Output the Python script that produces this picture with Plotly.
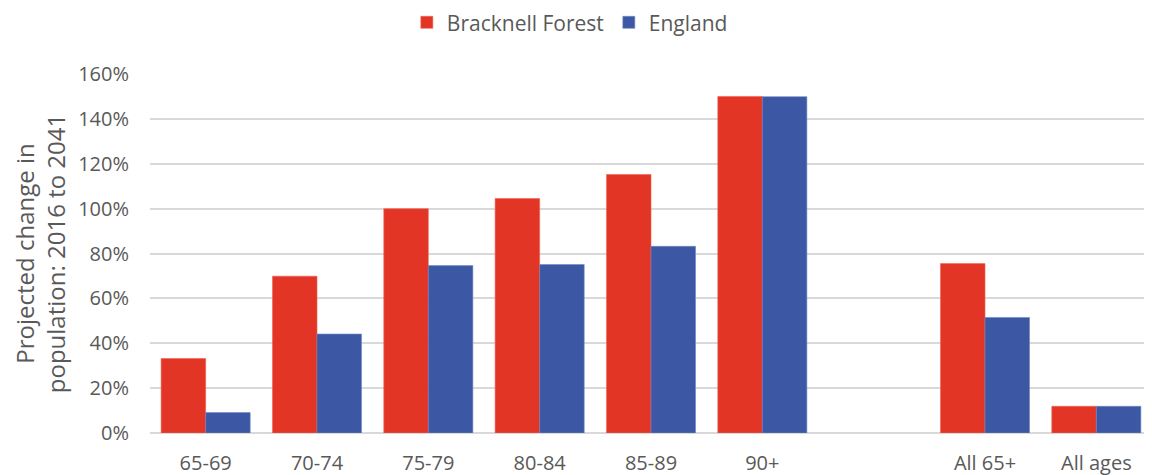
import plotly.graph_objects as go

categories = ["65-69", "70-74", "75-79", "80-84", "85-89", "90+", " ", "All 65+", "All ages"]
bracknell = [0.332, 0.699, 1.000, 1.045, 1.152, 1.500, None, 0.755, 0.119]
england = [0.091, 0.441, 0.746, 0.751, 0.832, 1.499, None, 0.515, 0.119]
y_ticks = [0, 0.2, 0.4, 0.6, 0.8, 1.0, 1.2, 1.4, 1.6]

RED = "#E33526"
BLUE = "#3C58A4"
TXT = "#595959"
FONT = "Open Sans"

fig = go.Figure()
fig.add_trace(go.Bar(name="Bracknell Forest", x=categories, y=bracknell,
                     marker=dict(color=RED, line=dict(color="#F0624F", width=0.6))))
fig.add_trace(go.Bar(name="England", x=categories, y=england,
                     marker=dict(color=BLUE, line=dict(color="#7186C4", width=0.6))))

fig.update_layout(
    width=1152, height=475,
    margin=dict(l=142, r=8, t=66, b=50, autoexpand=False),
    paper_bgcolor="white", plot_bgcolor="white",
    barmode="group", bargap=0.2, bargroupgap=0,
    font=dict(family=FONT, size=20, color=TXT),
    legend=dict(orientation="h", x=0.419, xanchor="center", y=1.143, yanchor="middle",
                font=dict(size=21, color=TXT), itemwidth=30, traceorder="normal",
                borderwidth=0),
    showlegend=True,
)
fig.update_xaxes(type="category", categoryorder="array", categoryarray=categories,
                 showgrid=False, showline=False, ticks="", tickfont=dict(size=20, color=TXT),
                 ticklabelstandoff=16, automargin=False)
fig.update_yaxes(range=[0, 1.6], tickvals=y_ticks, tickformat=".0%",
                 showgrid=True, gridcolor="#D9D9D9", gridwidth=1.5,
                 zeroline=True, zerolinecolor="#D9D9D9", zerolinewidth=1.5,
                 showline=False, ticks="", ticklabelstandoff=20, automargin=False,
                 tickfont=dict(size=20, color=TXT),
                 title=dict(text="Projected change in<br>population: 2016 to 2041",
                            font=dict(size=24, color=TXT), standoff=16))

fig.write_html("out.html")
